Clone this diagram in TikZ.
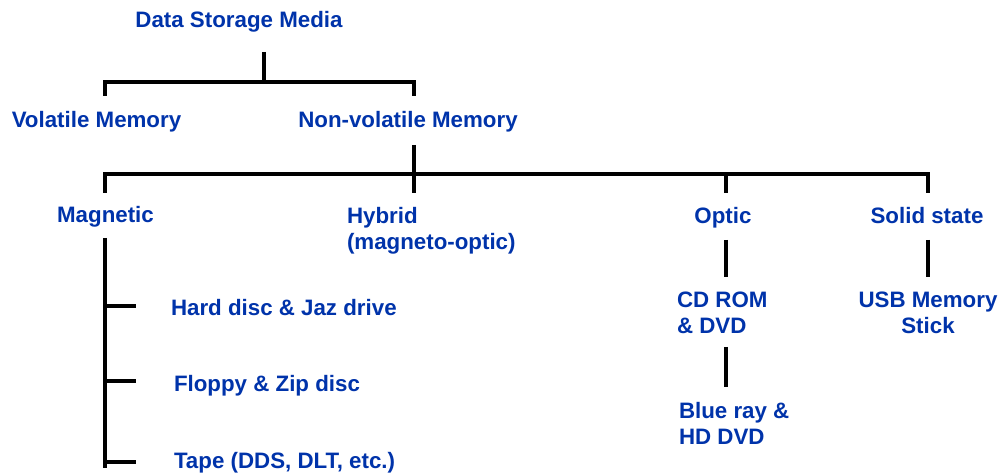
\documentclass[tikz,border=0pt]{standalone}
\usepackage{fontspec}
\setmainfont{Liberation Sans}
\definecolor{dsblue}{RGB}{0,51,170}
\begin{document}
\begin{tikzpicture}[x=0.02cm,y=-0.02cm,
  lbl/.style={text=dsblue,font=\bfseries\fontsize{12.7}{14.8}\selectfont,inner sep=0pt,outer sep=0pt},
  ln/.style={line width=1.9pt,black,line join=miter}]
\useasboundingbox (0,0) rectangle (1000,475);

% labels
\node[lbl,anchor=base] (dsm) at (239,28) {Data Storage Media};
\node[lbl,anchor=base] (vol) at (96.5,128) {Volatile Memory};
\node[lbl,anchor=base] (nvol) at (408,128) {Non-volatile Memory};
\node[lbl,anchor=base] (mag) at (105.5,223) {Magnetic};
\node[lbl,anchor=north west,align=left] (hyb) at (347,207) {Hybrid\\(magneto-optic)};
\node[lbl,anchor=base] (opt) at (723,224) {Optic};
\node[lbl,anchor=base] (sol) at (927,224) {Solid state};
\node[lbl,anchor=base west] (hdd) at (171,316) {Hard disc \& Jaz drive};
\node[lbl,anchor=base west] (flp) at (174,392) {Floppy \& Zip disc};
\node[lbl,anchor=base west] (tap) at (174,469) {Tape (DDS, DLT, etc.)};
\node[lbl,anchor=north west,align=left] (cd) at (677,292) {CD ROM\\\& DVD};
\node[lbl,anchor=north west,align=left] (blu) at (679,402) {Blue ray \&\\HD DVD};
\node[lbl,anchor=north,align=center] (usb) at (928,292) {USB Memory\\Stick};

% junction coordinates
\coordinate (t0) at (264,52);
\coordinate (t1) at (264,82);
\coordinate (v0) at (105,82);
\coordinate (v1) at (105,96);
\coordinate (n0) at (414,82);
\coordinate (n1) at (414,96);
\coordinate (s0) at (414,145);
\coordinate (s1) at (414,174);
\coordinate (m0) at (105,174);
\coordinate (m1) at (105,193);
\coordinate (h1) at (414,193);
\coordinate (o0) at (726,174);
\coordinate (o1) at (726,193);
\coordinate (q0) at (928,174);
\coordinate (q1) at (928,193);
\coordinate (g0) at (105,238);
\coordinate (g1) at (105,468);
\coordinate (k1a) at (105,306);
\coordinate (k1b) at (136,306);
\coordinate (k2a) at (105,381);
\coordinate (k2b) at (136,381);
\coordinate (k3a) at (105,462);
\coordinate (k3b) at (136,462);
\coordinate (c0) at (726,240);
\coordinate (c1) at (726,277);
\coordinate (b0) at (726,347);
\coordinate (b1) at (726,387);
\coordinate (u0) at (928,240);
\coordinate (u1) at (928,277);

% connectors
\draw[ln] (t0) -- (t1);
\draw[ln] (v1) -- (v0) -- (n0) -- (n1);
\draw[ln] (s0) -- (s1);
\draw[ln] (m1) -- (m0) -- (q0) -- (q1);
\draw[ln] (s1) -- (h1);
\draw[ln] (o0) -- (o1);
\draw[ln] (g0) -- (g1);
\draw[ln] (k1a) -- (k1b);
\draw[ln] (k2a) -- (k2b);
\draw[ln] (k3a) -- (k3b);
\draw[ln] (c0) -- (c1);
\draw[ln] (b0) -- (b1);
\draw[ln] (u0) -- (u1);
\end{tikzpicture}
\end{document}
